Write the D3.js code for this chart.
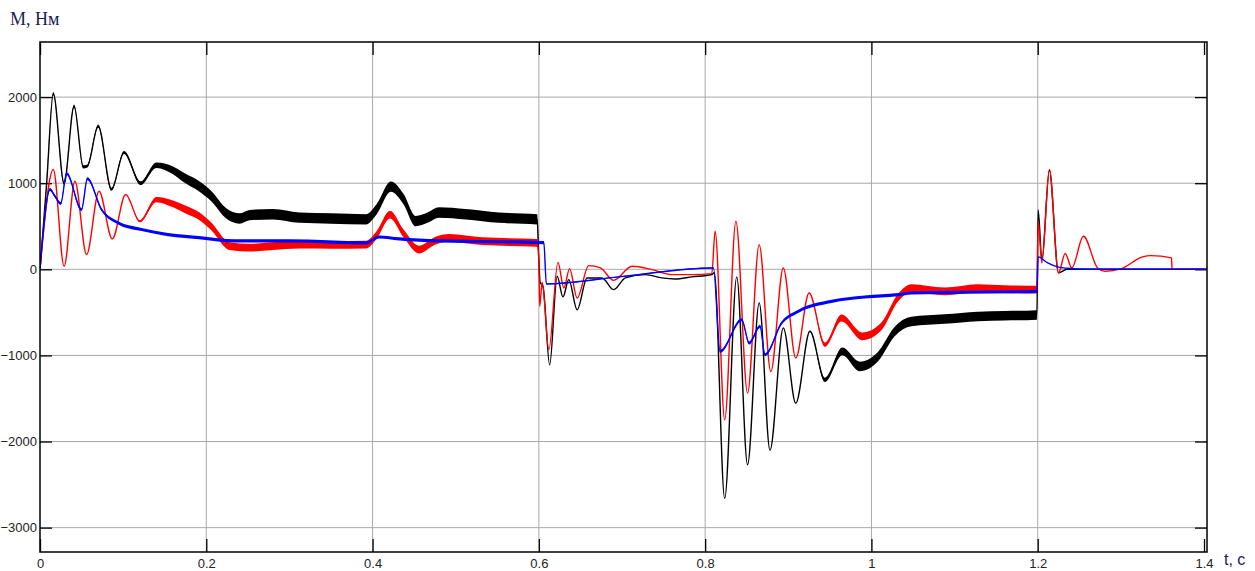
<!DOCTYPE html>
<html>
<head>
<meta charset="utf-8">
<script src="https://cdn.jsdelivr.net/npm/d3@7"></script>
<style>
  body { margin: 0; background: #fff; }
  svg { display: block; }
  .tick text { font-family: "Liberation Sans", Arial, sans-serif; font-size: 13px; fill: #222; }
</style>
</head>
<body>
<svg></svg>
<script>
// time (s) and torque (Nm); *_band = half width of the ripple band
const black_t = [0, 0.008, 0.016, 0.029, 0.041, 0.052, 0.057, 0.070, 0.086, 0.101, 0.121, 0.140, 0.160, 0.174, 0.192, 0.206, 0.224, 0.240, 0.252, 0.280, 0.312, 0.350, 0.392, 0.405, 0.422, 0.437, 0.452, 0.466, 0.480, 0.512, 0.552, 0.598,
  0.600, 0.6015, 0.605, 0.613, 0.622, 0.629, 0.636, 0.646, 0.658, 0.676, 0.690, 0.704, 0.728, 0.748, 0.764, 0.784, 0.808,
  0.811, 0.8235, 0.838, 0.851, 0.865, 0.878, 0.894, 0.909, 0.926, 0.944, 0.965, 0.986, 1.008, 1.028, 1.048, 1.088, 1.128, 1.160, 1.199,
  1.2005, 1.205, 1.214, 1.225, 1.235, 1.260, 1.4036];
const black_v = [0, 1000, 2040, 1000, 1895, 1190, 1200, 1663, 930, 1357, 1000, 1210, 1150, 1060, 960, 850, 650, 590, 630, 640, 600, 590, 580, 700, 960, 820, 560, 600, 660, 640, 600, 580,
  100, -150, -200, -1110, -80, -320, -120, -470, -100, -100, -236, -100, -62, -100, -112, -88, -60,
  -40, -2660, -88, -2270, -390, -2100, -680, -1555, -720, -1283, -953, -1128, -1012, -721, -605, -577, -547, -540, -530,
  690, 110, 1150, -40, 0, 0, 0];
const black_band = [0, 18, 18, 18, 18, 18, 18, 18, 18, 18, 22, 32, 45, 55, 60, 60, 60, 60, 60, 60, 60, 60, 60, 60, 60, 60, 60, 60, 60, 60, 60, 60,
  0, 0, 0, 0, 0, 0, 0, 0, 0, 0, 0, 0, 0, 0, 0, 0, 0,
  0, 0, 0, 0, 0, 0, 0, 0, 8, 25, 45, 55, 55, 55, 55, 55, 55, 55, 55,
  0, 0, 0, 0, 0, 0, 0];

const red_t = [0, 0.016, 0.029, 0.042, 0.056, 0.071, 0.087, 0.103, 0.120, 0.140, 0.160, 0.174, 0.192, 0.206, 0.228, 0.252, 0.280, 0.312, 0.350, 0.392, 0.405, 0.421, 0.437, 0.456, 0.475, 0.492, 0.532, 0.598,
  0.600, 0.601, 0.604, 0.612, 0.623, 0.630, 0.637, 0.646, 0.660, 0.674, 0.690, 0.712, 0.736, 0.760, 0.784, 0.808,
  0.812, 0.8235, 0.837, 0.851, 0.865, 0.879, 0.894, 0.909, 0.925, 0.944, 0.964, 0.989, 1.012, 1.032, 1.048, 1.088, 1.128, 1.160, 1.199,
  1.2005, 1.205, 1.214, 1.225, 1.233, 1.241, 1.255, 1.272, 1.281, 1.300, 1.326, 1.336, 1.361, 1.3615, 1.4036];
const red_v = [0, 1160, 35, 1023, 171, 907, 353, 869, 558, 810, 760, 700, 616, 500, 270, 252, 270, 287, 285, 287, 400, 636, 420, 229, 330, 365, 326, 307,
  100, -430, -150, -934, 81, -217, 8, -333, 43, 16, -128, 35, -4, -62, -62, -50,
  442, -1748, 558, -1437, 287, -1186, 16, -1030, -275, -876, -566, -779, -663, -330, -217, -256, -217, -230, -236,
  558, 74, 1159, -42, 183, 16, 384, 16, -23, 5, 144, 159, 133, 0, 0];
const red_band = [0, 0, 0, 0, 0, 0, 0, 0, 12, 30, 40, 45, 45, 45, 45, 45, 45, 45, 45, 45, 45, 45, 45, 45, 45, 45, 45, 45,
  0, 0, 0, 0, 0, 0, 0, 0, 0, 0, 0, 0, 0, 0, 0, 0,
  0, 0, 0, 0, 0, 0, 0, 0, 5, 25, 40, 45, 45, 45, 45, 45, 45, 45, 45,
  0, 0, 0, 0, 0, 0, 0, 0, 0, 0, 0, 0, 0, 0, 0];

const blue_t = [0, 0.012, 0.018, 0.025, 0.032, 0.050, 0.057, 0.074, 0.094, 0.122, 0.154, 0.194, 0.234, 0.300, 0.392, 0.408, 0.432, 0.480, 0.550, 0.606,
  0.609, 0.696, 0.810,
  0.818, 0.844, 0.853, 0.866, 0.872, 0.892, 0.912, 0.952, 0.992, 1.032, 1.048, 1.199,
  1.2005, 1.212, 1.224, 1.236, 1.260, 1.4036];
const blue_v = [0, 927, 849, 764, 1113, 694, 1051, 694, 539, 462, 403, 365, 330, 330, 307, 376, 353, 330, 320, 310,
  -170, -88, 16,
  -953, -585, -856, -663, -992, -624, -488, -372, -321, -294, -275, -256,
  144, 74, 28, 12, 0, 0];
const blue_band = [0, 18, 18, 18, 18, 18, 18, 18, 18, 18, 18, 18, 18, 18, 18, 18, 18, 18, 18, 18,
  4, 4, 4,
  18, 18, 18, 18, 18, 18, 18, 18, 18, 18, 18, 18,
  0, 0, 0, 0, 0, 0];

const x_ticks = [0, 0.2, 0.4, 0.6, 0.8, 1, 1.2, 1.4];
const y_ticks = [-3000, -2000, -1000, 0, 1000, 2000];

const width = 1255, height = 571;
const margin = { left: 40, right: 48, top: 42, bottom: 19 };

const svg = d3.select("svg").attr("width", width).attr("height", height);

const x_scale = d3.scaleLinear().domain([0, 1.4036]).range([margin.left, width - margin.right]);
const y_scale = d3.scaleLinear().domain([-3283, 2640]).range([height - margin.bottom, margin.top]);

const fmt = (d) => String(+d.toFixed(1));

// grid
svg.append("g")
  .selectAll("line")
  .data(y_ticks)
  .join("line")
  .attr("x1", margin.left).attr("x2", width - margin.right)
  .attr("y1", (d) => y_scale(d)).attr("y2", (d) => y_scale(d))
  .attr("stroke", "#a8a8a8").attr("stroke-width", 1);

svg.append("g")
  .selectAll("line")
  .data(x_ticks.slice(1, -1))
  .join("line")
  .attr("x1", (d) => x_scale(d)).attr("x2", (d) => x_scale(d))
  .attr("y1", margin.top).attr("y2", height - margin.bottom)
  .attr("stroke", "#a8a8a8").attr("stroke-width", 1);

// axes with inward ticks
const x_axis = d3.axisBottom(x_scale).tickValues(x_ticks).tickSize(-13).tickPadding(7).tickFormat(fmt);
const y_axis = d3.axisLeft(y_scale).tickValues(y_ticks).tickSize(-12).tickPadding(3).tickFormat(d3.format("d"));

svg.append("g").attr("transform", `translate(0,${height - margin.bottom})`).call(x_axis)
  .call((g) => g.select(".domain").remove());
svg.append("g").attr("transform", `translate(${margin.left},0)`).call(y_axis)
  .call((g) => g.select(".domain").remove());
svg.append("g").attr("transform", `translate(${width - margin.right},0)`)
  .call(d3.axisRight(y_scale).tickValues(y_ticks).tickSize(-12).tickFormat(""))
  .call((g) => g.select(".domain").remove());
svg.append("g").attr("transform", `translate(0,${margin.top})`)
  .call(d3.axisTop(x_scale).tickValues(x_ticks).tickSize(-13).tickFormat(""))
  .call((g) => g.select(".domain").remove());

svg.selectAll(".tick line").attr("stroke", "#000").attr("stroke-width", 1.3);

// series
svg.append("clipPath").attr("id", "clip")
  .append("rect")
  .attr("x", margin.left).attr("y", margin.top)
  .attr("width", width - margin.left - margin.right)
  .attr("height", height - margin.top - margin.bottom);

const plot = svg.append("g").attr("clip-path", "url(#clip)");

const series = [
  { t: black_t, v: black_v, band: black_band, color: "#000000" },
  { t: red_t, v: red_v, band: red_band, color: "#ff0000" },
  { t: blue_t, v: blue_v, band: blue_band, color: "#0000ff" }
];

series.forEach((s) => {
  const pts = s.t.map((t, i) => ({ t, v: s.v[i], a: s.band[i] }));

  const band = d3.area()
    .x((d) => x_scale(d.t))
    .y0((d) => y_scale(d.v - d.a))
    .y1((d) => y_scale(d.v + d.a))
    .curve(d3.curveMonotoneX);

  const line = d3.line()
    .x((d) => x_scale(d.t))
    .y((d) => y_scale(d.v))
    .curve(d3.curveMonotoneX);

  plot.append("path")
    .attr("fill", s.color)
    .attr("d", band(pts));

  plot.append("path")
    .attr("fill", "none")
    .attr("stroke", s.color)
    .attr("stroke-width", 1.4)
    .attr("stroke-linejoin", "round")
    .attr("d", line(pts));
});

// frame
svg.append("rect")
  .attr("x", margin.left).attr("y", margin.top)
  .attr("width", width - margin.left - margin.right)
  .attr("height", height - margin.top - margin.bottom)
  .attr("fill", "none").attr("stroke", "#000").attr("stroke-width", 1.5);

// axis titles
svg.append("text")
  .attr("x", 10).attr("y", 25)
  .style("font-family", "'Liberation Serif', 'Times New Roman', serif")
  .style("font-size", "18px")
  .attr("fill", "#1c1c50")
  .text("M, Нм");

svg.append("text")
  .attr("x", 1224).attr("y", 565)
  .style("font-family", "'Liberation Sans', Arial, sans-serif")
  .style("font-size", "16px")
  .attr("fill", "#1c1c50")
  .text("t, c");
</script>
</body>
</html>
